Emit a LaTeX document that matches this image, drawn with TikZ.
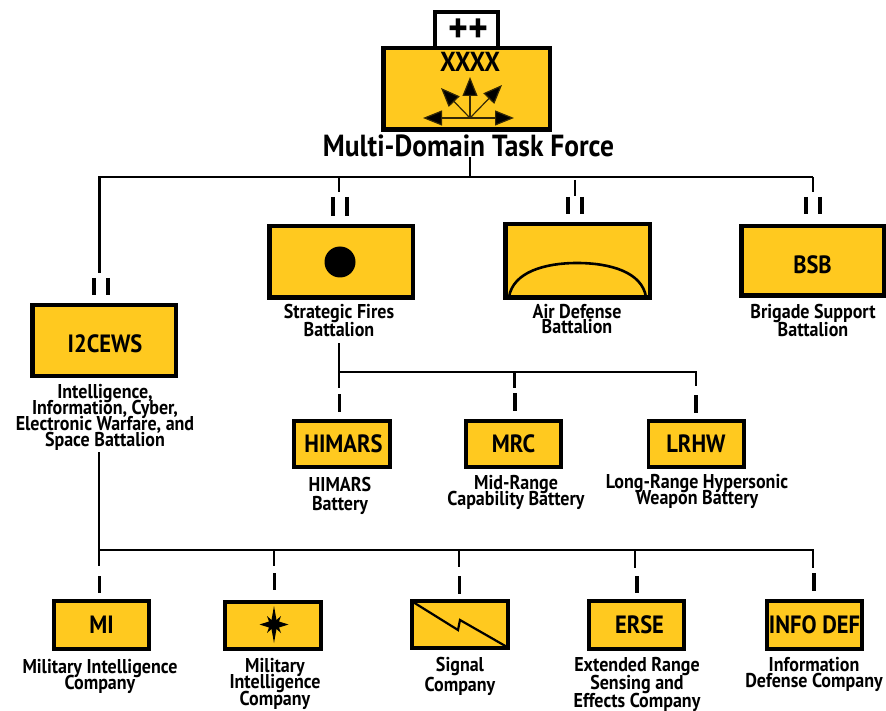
\documentclass[tikz,border=0pt]{standalone}
\usepackage{fontspec}
\setmainfont[FakeStretch=0.9]{PT Sans}
\usetikzlibrary{arrows.meta}
\definecolor{unit}{HTML}{FFC91F}
\AtBeginDocument{\lineskiplimit=-30pt\relax}
\tikzset{
 bigbox/.style={draw=black,fill=unit,line width=4.5pt,outer sep=0pt,inner sep=0pt,font=\fontsize{25}{25}\selectfont\bfseries},
 smallbox/.style={draw=black,fill=unit,line width=3.6pt,outer sep=0pt,inner sep=0pt,font=\fontsize{25}{25}\selectfont\bfseries},
 boxtext/.style={inner sep=0pt,font=\fontsize{25}{25}\selectfont\bfseries},
 lbl/.style={align=center,inner sep=0pt,font=\fontsize{20}{#1}\selectfont\bfseries},
 conn/.style={line width=2.2pt,line cap=butt},
 echmark/.style={line width=3.4pt},
 iconarrow/.style={line width=1.2pt,draw=black!80!unit,-{Triangle[length=19pt,width=15pt,fill=black]}}
}
\begin{document}
\begin{tikzpicture}[x=1pt,y=-1pt]
\useasboundingbox (0,0) rectangle (886,711);
% HQ
\node[draw=black,fill=white,line width=4pt,minimum width=63pt,minimum height=36pt,inner sep=0pt,outer sep=0pt] (plus) at (466.5,30) {};
\node[bigbox,minimum width=166.5pt,minimum height=81.5pt] (hq) at (466.5,89) {};
\node[inner sep=0pt,font=\fontsize{42}{42}\selectfont\bfseries] (pp) at (468,30.5) {++};
\node[inner sep=0pt,font=\fontsize{27.5}{27.5}\selectfont\bfseries] (xxxx) at (470,62) {XXXX};
\coordinate (c0) at (470,118);
\coordinate (al) at (423,118);\coordinate (ar) at (514,118);\coordinate (au) at (470,77);\coordinate (adl) at (441,88);\coordinate (adr) at (502,85);
\foreach \t in {al,ar,au,adl,adr}{\draw[iconarrow] (c0) -- (\t);}
\node[inner sep=0pt,font=\fontsize{30.5}{30.5}\selectfont\bfseries] (mdtf) at (468.5,146) {Multi-Domain Task Force};
% battalions
\node[bigbox,minimum width=143.5pt,minimum height=71.5pt] (sf) at (341,262) {};
\fill (sf.center) ++(-1,0) circle (15.5pt);
\node[bigbox,minimum width=144.5pt,minimum height=73.5pt] (ad) at (577.5,261) {};
\draw[line width=2.6pt] (509,297) .. controls (513,272) and (545,263) .. (577,263) .. controls (610,263) and (642,272) .. (646,297);
\node[bigbox,minimum width=142.5pt,minimum height=69.5pt] (bsb) at (812.5,261) {};
\node[boxtext] (tbsb) at (812.5,265) {BSB};
\node[bigbox,minimum width=143.5pt,minimum height=70.5pt] (i2c) at (104,340.5) {};
\node[boxtext] (ti2c) at (105,344) {I2CEWS};
\node[lbl=18] (lsf) at (339,320) {Strategic Fires\\Battalion};
\node[lbl=15] (lad) at (577,319.5) {Air Defense\\Battalion};
\node[lbl=18] (lbsb) at (813,320) {Brigade Support\\Battalion};
\node[lbl=16] (li2c) at (105,417) {Intelligence,\\Information, Cyber,\\Electronic Warfare, and\\Space Battalion};
% batteries
\node[smallbox,minimum width=96.4pt,minimum height=46.4pt] (him) at (342,444) {\hspace*{3pt}HIMARS};
\node[smallbox,minimum width=95.4pt,minimum height=46.4pt] (mrc) at (513.5,444) {MRC};
\node[smallbox,minimum width=95.4pt,minimum height=46.4pt] (lrh) at (696,444) {LRHW};
\node[lbl=19] (lhim) at (340,495.5) {HIMARS\\Battery};
\node[lbl=15.5] (lmrc) at (516,492.5) {Mid-Range\\Capability Battery};
\node[lbl=15.5] (llrh) at (697,491.5) {Long-Range Hypersonic\\Weapon Battery};
% companies
\node[smallbox,minimum width=95.4pt,minimum height=48.4pt] (mi) at (101.5,625) {MI};
\node[smallbox,minimum width=96.4pt,minimum height=47.4pt] (mi2) at (273,625.5) {};
\node[smallbox,minimum width=96.4pt,minimum height=47.4pt] (sig) at (460,624.5) {};
\node[smallbox,minimum width=95.4pt,minimum height=48.4pt] (ers) at (636.5,625) {\hspace*{6pt}ERSE};
\node[smallbox,minimum width=95.4pt,minimum height=48.4pt] (inf) at (814.5,625) {INFO DEF};
\fill (274,606) -- (276.5,620) -- (281,616) -- (279,621.5) -- (288.5,624.5) -- (279,627.5) -- (281,633) -- (276.5,629) -- (274,643) -- (271.5,629) -- (267,633) -- (269,627.5) -- (259.5,624.5) -- (269,621.5) -- (267,616) -- (271.5,620) -- cycle;
\draw[line width=2.2pt] (413,602) -- (458,630) -- (460,620) -- (508,647.5);
\node[lbl=16] (lmi) at (100,676) {Military Intelligence\\Company};
\node[lbl=16.5] (lmi2) at (275,683.5) {Military\\Intelligence\\Company};
\node[lbl=20] (lsig) at (460,676) {Signal\\Company};
\node[lbl=18] (lers) at (637,684) {Extended Range\\Sensing and\\Effects Company};
\node[lbl=16] (linf) at (814,674) {Information\\Defense Company};
% top connectors
\coordinate (topbus) at (470,177);
\draw[conn] (mdtf.south -| topbus) -- (topbus);
\draw[conn] (99.5,273) |- (813,177);
\draw[conn] (339,177) -- (339,192);
\draw[conn] (575,180) -- (575,196);
\draw[conn] (813,177) -- (813,192);
\foreach \b/\ya/\yb/\dx in {i2c/278/295/-3,sf/197/216/-1,ad/197/214/-2.5,bsb/197/214/0.5}{
 \draw[echmark] (\b.north |- 0,\ya) ++(\dx-7,0) -- ++(0,\yb-\ya);
 \draw[echmark] (\b.north |- 0,\ya) ++(\dx+7,0) -- ++(0,\yb-\ya);
}
% fires connectors
\draw[conn] (339,343) -- (339,388);
\draw[conn] (339,372) -| (696,386);
\draw[conn] (514.5,372) -- (514.5,388);
\draw[echmark] (339.5,394) -- (339.5,412);
\draw[echmark] (515,393) -- (515,411);
\draw[echmark] (696,395) -- (696,413);
% company connectors
\draw[conn] (99,452) -- (99,566);
\draw[conn] (99,550) -| (813,568);
\draw[conn] (274,550) -- (274,566);
\draw[conn] (459,550) -- (459,567);
\draw[conn] (635,550) -- (635,568);
\draw[echmark] (99.5,576) -- (99.5,593);
\draw[echmark] (274.5,573) -- (274.5,590);
\draw[echmark] (459.5,576) -- (459.5,594);
\draw[echmark] (637,576) -- (637,593);
\draw[echmark] (814,573) -- (814,591);
\end{tikzpicture}
\end{document}
